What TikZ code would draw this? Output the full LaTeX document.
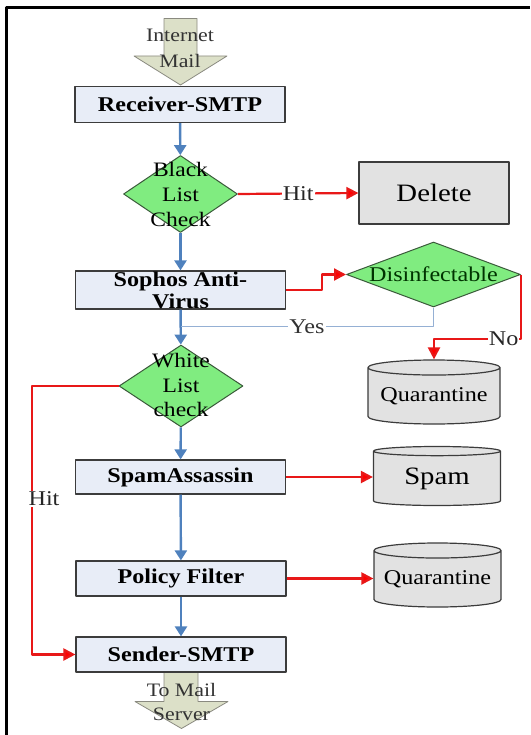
\documentclass[tikz,border=0pt]{standalone}
\usepackage{fontspec}
\setmainfont{Liberation Serif}[FakeStretch=1.15]
\usetikzlibrary{shapes.geometric,arrows.meta}
\definecolor{boxfill}{HTML}{E8EDF7}
\definecolor{boxline}{HTML}{3C3C3C}
\definecolor{decfill}{HTML}{80EC80}
\definecolor{decline}{HTML}{3A5A3A}
\definecolor{grayfill}{HTML}{E2E2E2}
\definecolor{khaki}{HTML}{DCE0C8}
\definecolor{khakiline}{HTML}{8A8A80}
\definecolor{flowblue}{HTML}{4F81BD}
\definecolor{yesblue}{HTML}{95B0D4}
\definecolor{flowred}{HTML}{E81818}
\begin{document}
\begin{tikzpicture}[x=1pt,y=-1pt,line join=round,
  font=\fontsize{21}{25}\selectfont,
  box/.style={draw=boxline,fill=boxfill,line width=1.2pt,minimum width=210pt,
    minimum height=36pt,inner sep=0pt,font=\fontsize{21}{22}\selectfont\bfseries},
  decision/.style={diamond,draw=decline,fill=decfill,line width=1pt,inner sep=0pt},
  store/.style={cylinder,shape border rotate=90,aspect=0.14,draw=boxline,
    fill=grayfill,line width=1.2pt,inner sep=0pt,anchor=shape center},
  bigarrow/.style={draw=khakiline,fill=khaki,line width=.8pt},
  flow/.style={draw=flowblue,line width=2.4pt,-{Triangle[width=12pt,length=10pt]}},
  redflow/.style={draw=flowred,line width=2.2pt,-{Triangle[width=12pt,length=12pt,fill=red]}},
  yesline/.style={draw=yesblue,line width=1.5pt},
  lbl/.style={fill=white,inner sep=1pt,text=black!85}]
\useasboundingbox (0,0) rectangle (530,735);
% frame
\draw[line width=3pt] (6.5,735) -- (6.5,7.5) -- (530,7.5);
% block arrows in and out
\draw[bigarrow] (164,18.5) -- (197,18.5) -- (197,56) -- (227,56) -- (180.5,85)
  -- (134,56) -- (164,56) -- cycle;
\draw[bigarrow] (164,672) -- (198,672) -- (198,701.5) -- (228,701.5) -- (181.5,728.5)
  -- (135,701.5) -- (164,701.5) -- cycle;
\node[align=center,font=\fontsize{19}{26}\selectfont,text=black!80] (inmail)
  at (180,48.5) {Internet\\Mail};
\node[align=center,font=\fontsize{19}{24}\selectfont,text=black!80] (tomail)
  at (181.5,701.5) {To Mail\\Server};
% main column
\node[box] (recv) at (180,104.5) {Receiver-SMTP};
\node[decision,minimum width=114pt,minimum height=77pt] (black) at (180.5,194) {};
\node[align=center,font=\fontsize{20.5}{25}\selectfont] (blacktext) at (180.5,194)
  {Black\\List\\Check};
\node[box,minimum height=38pt] (sophos) at (180.5,290) {};
\node[align=center,font=\fontsize{21}{22}\selectfont\bfseries] (sophostext)
  at (180.5,290) {Sophos Anti-\\Virus};
\node[decision,minimum width=124pt,minimum height=82pt] (white) at (181,386) {};
\node[align=center,font=\fontsize{20.5}{24.5}\selectfont] (whitetext) at (181,385)
  {White\\List\\check};
\node[box,minimum height=34pt] (spam) at (180.5,477) {SpamAssassin};
\node[box,minimum height=35pt] (policy) at (181,578.5) {Policy Filter};
\node[box,minimum height=35pt] (sender) at (181,654.5) {Sender-SMTP};
% right column
\node[draw=boxline,fill=grayfill,line width=1.2pt,minimum width=150pt,minimum height=62pt,
  font=\fontsize{25}{28}\selectfont] (delete) at (434,193) {Delete};
\node[decision,minimum width=174pt,minimum height=65pt] (dis) at (433.5,274.5) {};
\node[font=\fontsize{21}{25}\selectfont,text=black!80!green] (distext) at (433.5,274.5)
  {Disinfectable};
\node[store,minimum width=132pt,minimum height=64pt] (quar) at (434,392) {Quarantine};
\node[store,minimum width=127pt,minimum height=59pt,font=\fontsize{25}{28}\selectfont]
  (spamdb) at (437,476) {Spam};
\node[store,minimum width=127pt,minimum height=64pt] (quartwo) at (437.5,575) {Quarantine};
% flow
\draw[flow] (recv) -- (black);
\draw[flow] (black) -- (sophos);
\draw[flow] (sophos) -- (white);
\draw[flow] (white) -- (spam);
\draw[flow] (spam) -- (policy);
\draw[flow] (policy) -- (sender);
\draw[yesline] (dis.south) |- (sophos.south |- 0,326.5)
  node[lbl,pos=0.75,text=black!80] (yes) {Yes};
\draw[redflow] (black.east) -- node[lbl] (hitone) {Hit} (delete.west);
\draw[redflow] (sophos.east) -- ++(36,0) |- (dis.west);
\draw[redflow] (dis.east) |- (quar.north |- 0,339)
  node[lbl,pos=0.6] (no) {No} -- (quar.north);
\draw[redflow] (white.west) -- (32,386) |- (sender.west);
\node[lbl] (hittwo) at (44,499) {Hit};
\draw[redflow] (spam.east) -- (spam.east -| spamdb.west);
\draw[redflow] (policy.east) -- (policy.east -| quartwo.west);
\end{tikzpicture}
\end{document}
